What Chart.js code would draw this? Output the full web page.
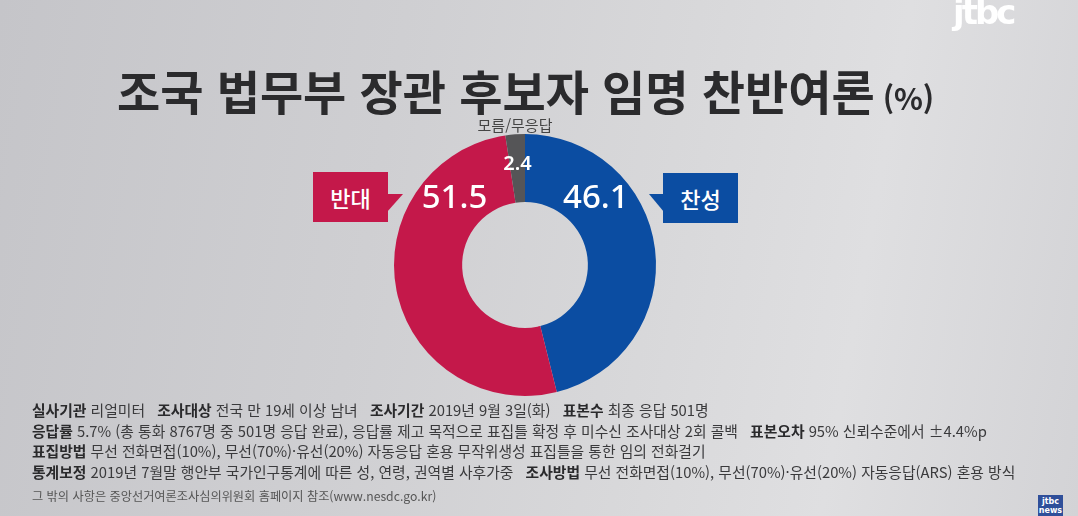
<!DOCTYPE html>
<html lang="ko">
<head>
<meta charset="utf-8">
<script src="https://cdn.jsdelivr.net/npm/chart.js@4.4.1/dist/chart.umd.min.js"></script>
<style>
  html, body { margin:0; padding:0; }
  body {
    width:1078px; height:516px; overflow:hidden; position:relative;
    background: linear-gradient(100deg, #c5c5c9 0%, #cfcfd2 35%, #d8d8da 60%, #dfdfe1 78%, #d3d3d6 100%);
    font-family: "Noto Sans CJK KR", "Noto Sans", sans-serif;
  }
  #wrap { position:absolute; left:0; top:0; width:1078px; height:516px; }
  .title { position:absolute; left:117px; top:66px; font-size:47px; font-weight:700; color:#2b2b2d; white-space:nowrap; line-height:1; }
  .title small { font-size:30px; font-weight:700; margin-left:8px; }
  .dk { position:absolute; left:0; width:1030px; text-align:center; top:114px; font-size:15px; color:#444; }
  .call { position:absolute; color:#fff; font-size:22px; font-weight:500; text-align:center; line-height:50px; height:50px; width:75px; }
  .call.red { left:313px; top:172px; background:#c4184a; }
  .call.blue { left:663px; top:173px; background:#0b4da2; }
  .tri { position:absolute; width:0; height:0; }
  .tri.red { left:387px; top:194px; border-top:0 solid transparent; border-bottom:18px solid transparent; border-left:16px solid #c4184a; }
  .tri.blue { left:649px; top:194px; border-top:0 solid transparent; border-bottom:18px solid transparent; border-right:15px solid #0b4da2; }
  .foot { position:absolute; left:32px; top:400px; font-size:14.8px; color:#3a3a3c; line-height:20.6px; white-space:nowrap; }
  .foot b { font-weight:700; color:#2a2a2c; }
  .foot .sp { display:inline-block; width:8px; }
  .foot2 { position:absolute; left:32px; top:487px; font-size:12.2px; color:#555; white-space:nowrap; }
  .logo { position:absolute; left:953px; top:-8px; font-family:"DejaVu Sans", sans-serif; font-weight:700; font-size:34px; color:#fff; letter-spacing:-3px; }
  .slogo { position:absolute; left:1038px; top:495px; width:25px; height:21px; background:#2f4f9a; color:#fff; font-size:8px; font-weight:700; text-align:center; line-height:9px; padding-top:2px; box-sizing:border-box; font-family:"DejaVu Sans", sans-serif; }
</style>
</head>
<body>
<div id="wrap"><canvas id="c" width="1078" height="516"></canvas></div>
<div class="title">조국 법무부 장관 후보자 임명 찬반여론<small>(%)</small></div>
<div class="dk">모름/무응답</div>
<div class="call red">반대</div><div class="tri red"></div>
<div class="call blue">찬성</div><div class="tri blue"></div>
<div class="foot">
<b>실사기관</b> 리얼미터<span class="sp"></span> <b>조사대상</b> 전국 만 19세 이상 남녀<span class="sp"></span> <b>조사기간</b> 2019년 9월 3일(화)<span class="sp"></span> <b>표본수</b> 최종 응답 501명<br>
<b>응답률</b> 5.7% (총 통화 8767명 중 501명 응답 완료), 응답률 제고 목적으로 표집틀 확정 후 미수신 조사대상 2회 콜백<span class="sp"></span> <b>표본오차</b> 95% 신뢰수준에서 ±4.4%p<br>
<b>표집방법</b> 무선 전화면접(10%), 무선(70%)·유선(20%) 자동응답 혼용 무작위생성 표집틀을 통한 임의 전화걸기<br>
<b>통계보정</b> 2019년 7월말 행안부 국가인구통계에 따른 성, 연령, 권역별 사후가중<span class="sp"></span> <b>조사방법</b> 무선 전화면접(10%), 무선(70%)·유선(20%) 자동응답(ARS) 혼용 방식
</div>
<div class="foot2">그 밖의 사항은 중앙선거여론조사심의위원회 홈페이지 참조(www.nesdc.go.kr)</div>
<div class="logo">jtbc</div>
<div class="slogo">jtbc<br>news</div>
<script>
const categories = ['찬성', '반대', '모름/무응답'];
const values = [46.1, 51.5, 2.4];
const colors = ['#0b4da2', '#c4184a', '#555557'];

const labelPlugin = {
  id: 'arcLabels',
  afterDatasetsDraw(chart, args, opts) {
    const ctx = chart.ctx;
    const meta = chart.getDatasetMeta(0);
    meta.data.forEach((arc, i) => {
      const cfg = opts.items[i];
      const p = arc.getProps(['x', 'y', 'startAngle', 'endAngle', 'innerRadius', 'outerRadius'], true);
      let ang;
      if (cfg.from === 'start') ang = p.startAngle + cfg.deg * Math.PI / 180;
      else if (cfg.from === 'end') ang = p.endAngle - cfg.deg * Math.PI / 180;
      else ang = (p.startAngle + p.endAngle) / 2;
      const r = p.innerRadius + (p.outerRadius - p.innerRadius) * cfg.rf;
      const x = p.x + Math.cos(ang) * r;
      const y = p.y + Math.sin(ang) * r;
      ctx.save();
      ctx.fillStyle = '#ffffff';
      ctx.font = cfg.font;
      ctx.textAlign = 'center';
      ctx.textBaseline = 'middle';
      ctx.fillText(values[i].toFixed(1), x, y);
      ctx.restore();
    });
  }
};

new Chart(document.getElementById('c'), {
  type: 'doughnut',
  data: {
    labels: categories,
    datasets: [{ data: values, backgroundColor: colors, borderWidth: 0 }]
  },
  options: {
    responsive: false,
    animation: false,
    cutout: '48%',
    rotation: 0,
    layout: { padding: { left: 394, right: 422, top: 134, bottom: 120 } },
    plugins: {
      legend: { display: false },
      tooltip: { enabled: false },
      arcLabels: {
        items: [
          { from: 'start', deg: 47, rf: 0.5, font: '500 33px "Noto Sans", "Open Sans", sans-serif' },
          { from: 'end', deg: 38, rf: 0.5, font: '500 33px "Noto Sans", "Open Sans", sans-serif' },
          { from: 'mid', deg: 0, rf: 0.56, font: '600 20px "Noto Sans", "Open Sans", sans-serif' }
        ]
      }
    }
  },
  plugins: [labelPlugin]
});
</script>
</body>
</html>
